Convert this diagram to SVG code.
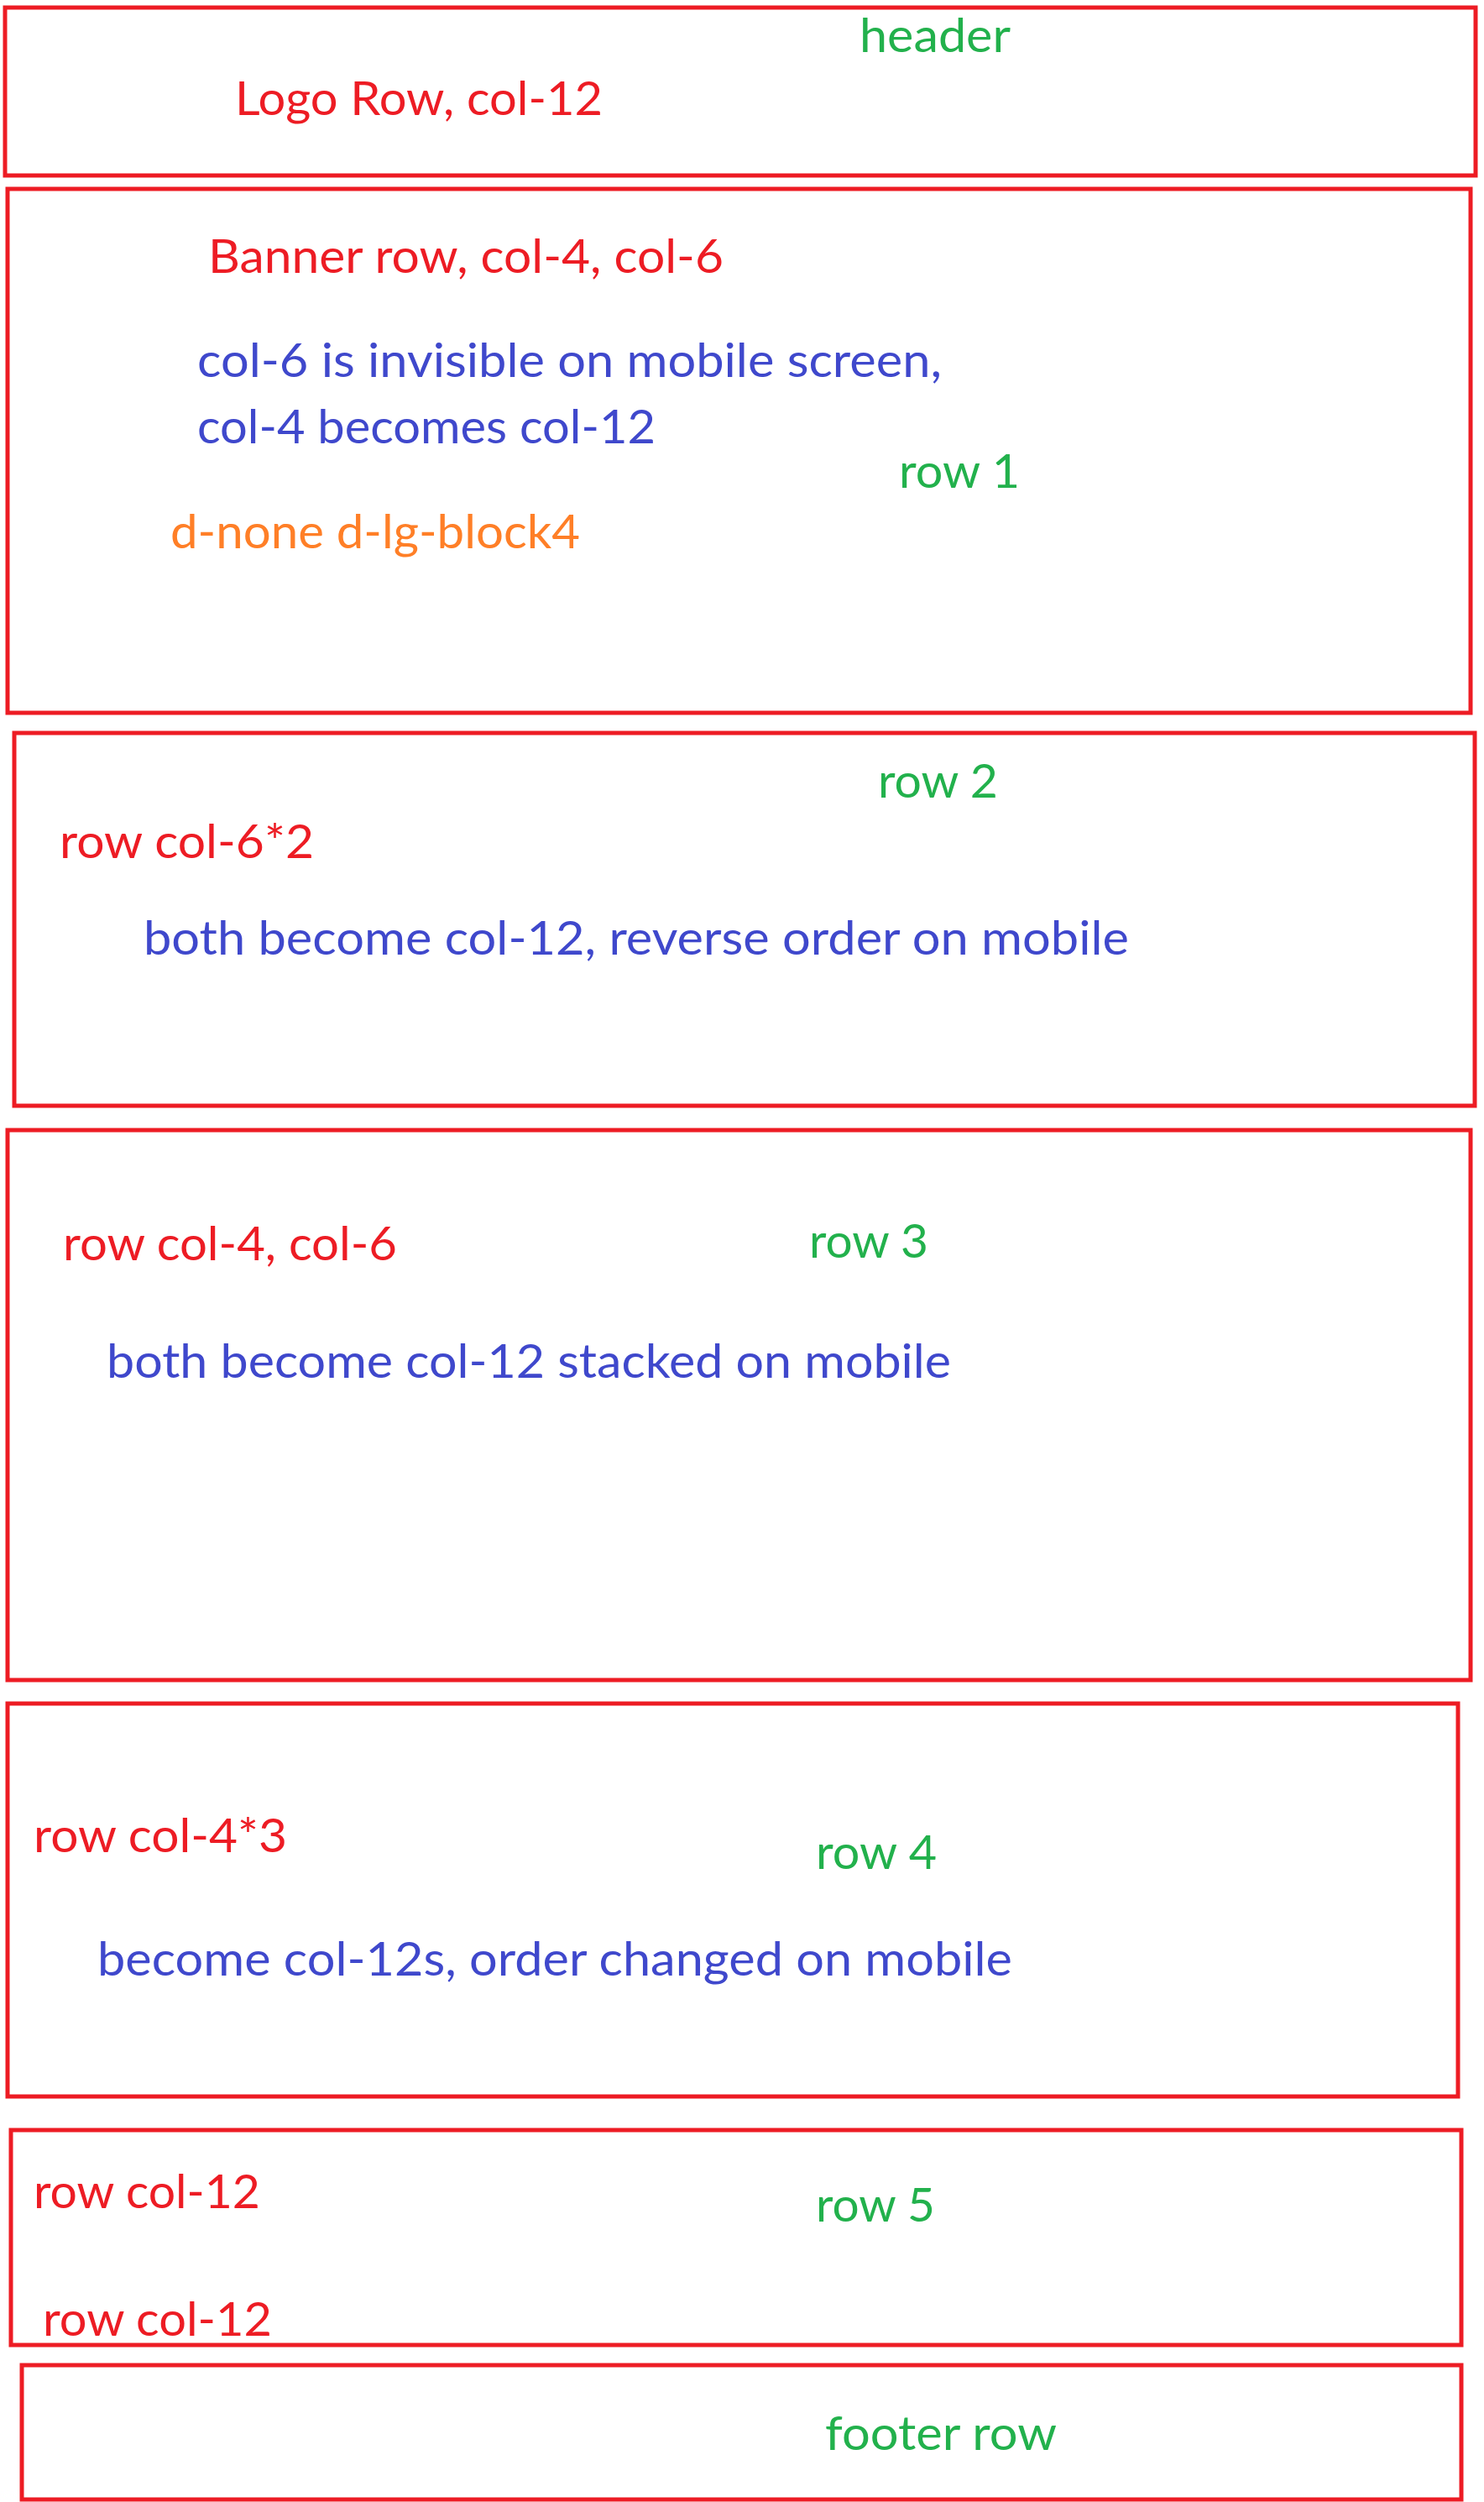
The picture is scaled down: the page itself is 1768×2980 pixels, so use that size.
<svg xmlns="http://www.w3.org/2000/svg" width="1768" height="2980" viewBox="0 0 1768 2980">
<style>
.box{fill:none;stroke:#ED1C24;stroke-width:5}
text{font-family:Lato,"Open Sans","Liberation Sans",sans-serif;font-size:56px}
.r{fill:#ED1C24}.g{fill:#22B14C}.b{fill:#3F48CC}.o{fill:#FF7F27}
</style>
<rect width="1768" height="2980" fill="#fff"/>
<g id="header">
<rect class="box" x="6" y="9" width="1752" height="200"/>
<text class="g" x="1024" y="62" textLength="180" lengthAdjust="spacingAndGlyphs">header</text>
<text class="r" x="280" y="137" textLength="438" lengthAdjust="spacingAndGlyphs">Logo Row, col-12</text>
</g>
<g id="row1">
<rect class="box" x="9" y="225" width="1743" height="624"/>
<text class="r" x="248" y="325" textLength="614" lengthAdjust="spacingAndGlyphs">Banner row, col-4, col-6</text>
<text class="b" x="235" y="449" textLength="887" lengthAdjust="spacingAndGlyphs">col-6 is invisible on mobile screen,</text>
<text class="b" x="235" y="528" textLength="546" lengthAdjust="spacingAndGlyphs">col-4 becomes col-12</text>
<text class="g" x="1071" y="581" textLength="144" lengthAdjust="spacingAndGlyphs">row 1</text>
<text class="o" x="203" y="653" textLength="488" lengthAdjust="spacingAndGlyphs">d-none d-lg-block4</text>
</g>
<g id="row2">
<rect class="box" x="17" y="873" width="1740" height="444"/>
<text class="g" x="1046" y="950" textLength="143" lengthAdjust="spacingAndGlyphs">row 2</text>
<text class="r" x="71" y="1022" textLength="303" lengthAdjust="spacingAndGlyphs">row col-6*2</text>
<text class="b" x="171" y="1137" textLength="1174" lengthAdjust="spacingAndGlyphs">both become col-12, reverse order on mobile</text>
</g>
<g id="row3">
<rect class="box" x="9" y="1346" width="1743" height="655"/>
<text class="r" x="75" y="1501" textLength="398" lengthAdjust="spacingAndGlyphs">row col-4, col-6</text>
<text class="g" x="964" y="1498" textLength="142" lengthAdjust="spacingAndGlyphs">row 3</text>
<text class="b" x="127" y="1641" textLength="1006" lengthAdjust="spacingAndGlyphs">both become col-12 stacked on mobile</text>
</g>
<g id="row4">
<rect class="box" x="9" y="2029" width="1728" height="468"/>
<text class="r" x="40" y="2206" textLength="302" lengthAdjust="spacingAndGlyphs">row col-4*3</text>
<text class="g" x="972" y="2226" textLength="144" lengthAdjust="spacingAndGlyphs">row 4</text>
<text class="b" x="116" y="2353" textLength="1090" lengthAdjust="spacingAndGlyphs">become col-12s, order changed on mobile</text>
</g>
<g id="row5">
<rect class="box" x="13" y="2537" width="1728" height="256"/>
<text class="r" x="40" y="2630" textLength="270" lengthAdjust="spacingAndGlyphs">row col-12</text>
<text class="g" x="972" y="2646" textLength="142" lengthAdjust="spacingAndGlyphs">row 5</text>
<text class="r" x="51" y="2782" textLength="273" lengthAdjust="spacingAndGlyphs">row col-12</text>
</g>
<g id="footer">
<rect class="box" x="26" y="2817" width="1715" height="160"/>
<text class="g" x="983" y="2918" textLength="276" lengthAdjust="spacingAndGlyphs">footer row</text>
</g>
<g id="connectors"/>
</svg>
